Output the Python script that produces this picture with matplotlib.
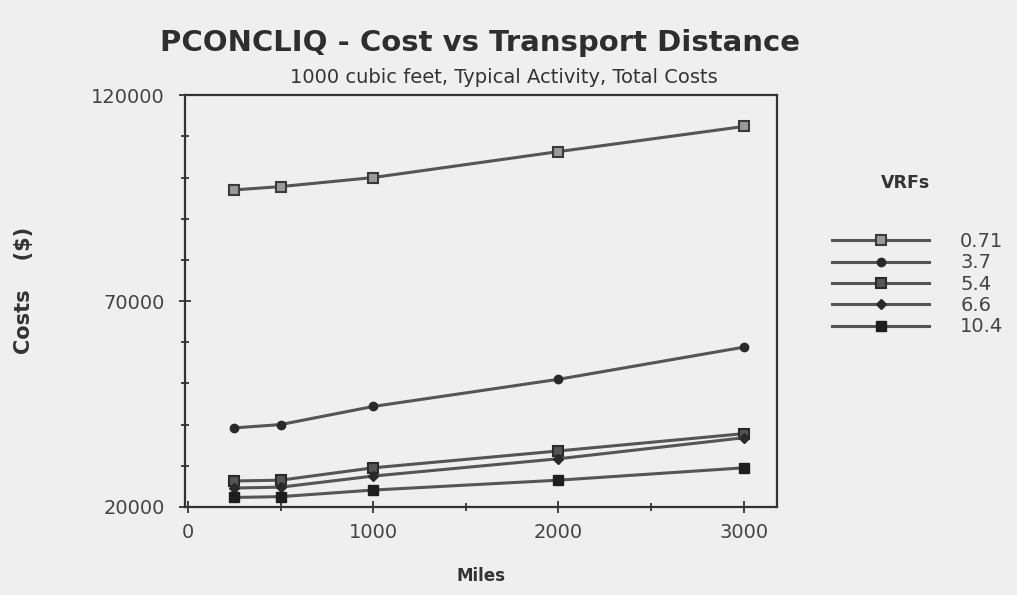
import matplotlib
matplotlib.use("Agg")
import matplotlib.pyplot as plt
from matplotlib.ticker import MultipleLocator

miles = [250, 500, 1000, 2000, 3000]
vrf_labels = ["0.71", "3.7", "5.4", "6.6", "10.4"]
cost_071 = [97000, 97800, 100000, 106300, 112400]
cost_37 = [39200, 40000, 44400, 51000, 58800]
cost_54 = [26300, 26500, 29500, 33600, 37800]
cost_66 = [24600, 24800, 27500, 31700, 36800]
cost_104 = [22300, 22500, 24100, 26500, 29500]
series = [cost_071, cost_37, cost_54, cost_66, cost_104]

bg = "#efefef"
plt.rcParams['font.family'] = ['DejaVu Sans']

fig = plt.figure(figsize=(10.17, 5.95), dpi=100, facecolor=bg)
ax = fig.add_axes([0.182, 0.148, 0.582, 0.692], facecolor=bg)

styles = [
    dict(marker='s', ms=7, mfc='#9a9a9a', mec='#3a3a3a', mew=1.5),
    dict(marker='o', ms=6, mfc='#2a2a2a', mec='#2a2a2a', mew=1),
    dict(marker='s', ms=7, mfc='#555555', mec='#2a2a2a', mew=1.5),
    dict(marker='D', ms=5.5, mfc='#2a2a2a', mec='#2a2a2a', mew=1),
    dict(marker='s', ms=7, mfc='#1e1e1e', mec='#1e1e1e', mew=1),
]
for vals, lab, st in zip(series, vrf_labels, styles):
    ax.plot(miles, vals, color='#555555', lw=2.2, label=lab, **st)

ax.set_xlim(-15, 3180)
ax.set_ylim(20000, 120000)
ax.set_xticks([0, 1000, 2000, 3000])
ax.xaxis.set_minor_locator(MultipleLocator(500))
ax.set_yticks([20000, 70000, 120000])
ax.yaxis.set_minor_locator(MultipleLocator(10000))
ax.tick_params(axis='both', which='both', direction='inout', color='#333333', width=1.3)
ax.tick_params(axis='both', which='major', length=9, labelsize=14, labelcolor='#444444', pad=7)
ax.tick_params(axis='y', which='major', pad=10)
ax.tick_params(axis='both', which='minor', length=6)
for s in ax.spines.values():
    s.set_color('#333333')
    s.set_linewidth(1.6)

ax.set_xlabel('Miles', fontsize=12, fontweight='bold', color='#333333', labelpad=18)
ax.set_ylabel('Costs    ($)', fontsize=15, fontweight='bold', color='#333333', labelpad=40)
ax.yaxis.set_label_coords(-0.255, 0.525)

fig.text(0.472, 0.928, 'PCONCLIQ - Cost vs Transport Distance', ha='center', va='center',
         fontsize=21, fontweight='bold', color='#2e2e2e')
fig.text(0.495, 0.869, '1000 cubic feet, Typical Activity, Total Costs', ha='center', va='center',
         fontsize=14, color='#333333')

fig.text(0.89, 0.692, 'VRFs', ha='center', va='center', fontsize=12.5, fontweight='bold',
         color='#333333')
leg = ax.legend(loc='upper left', bbox_to_anchor=(0.818, 0.61), bbox_transform=fig.transFigure,
                frameon=False, handlelength=5.0, fontsize=14,
                labelspacing=0.12, handletextpad=1.6, borderaxespad=0, borderpad=0)
for t in leg.get_texts():
    t.set_color('#444444')

fig.savefig('out.png', dpi=100, facecolor=bg)
